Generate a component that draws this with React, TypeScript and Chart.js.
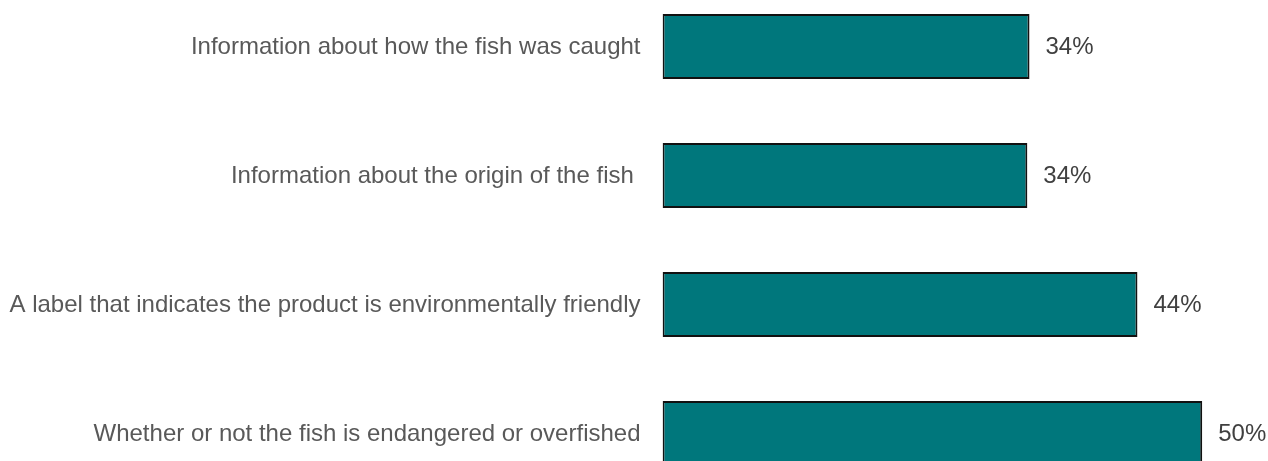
import React, { useEffect, useRef } from "react";
import { Chart, registerables } from "chart.js";

Chart.register(...registerables);

const categories = [
  "Information about how the fish was caught",
  "Information about the origin of the fish ",
  "A label that indicates the product is environmentally friendly",
  "Whether or not the fish is endangered or overfished",
];
const values = [34, 33.8, 44, 50];
const valueLabels = ["34%", "34%", "44%", "50%"];

const TEXT_COLOR = "#595959";
const VALUE_COLOR = "#404040";
const FONT = "'Liberation Sans', Arial, sans-serif";

const labelPlugin = {
  id: "labelsPlugin",
  afterDatasetsDraw(chart: any) {
    const ctx = chart.ctx;
    const meta = chart.getDatasetMeta(0);
    const left = chart.chartArea.left;
    ctx.save();
    ctx.font = `24px ${FONT}`;
    ctx.textBaseline = "middle";
    meta.data.forEach((bar: any, i: number) => {
      ctx.fillStyle = TEXT_COLOR;
      ctx.textAlign = "right";
      ctx.fillText(String(chart.data.labels[i]), left - 22, bar.y + 1);
      ctx.fillStyle = VALUE_COLOR;
      ctx.textAlign = "left";
      ctx.fillText(valueLabels[i], bar.x + 16, bar.y + 1);
    });
    ctx.restore();
  },
};

export default function App() {
  const canvasRef = useRef<HTMLCanvasElement | null>(null);

  useEffect(() => {
    if (!canvasRef.current) return;
    const chart = new Chart(canvasRef.current, {
      type: "bar",
      data: {
        labels: categories,
        datasets: [
          {
            data: values,
            backgroundColor: "#00777C",
            borderColor: "#111111",
            borderWidth: 2,
            borderSkipped: false,
            categoryPercentage: 1,
            barPercentage: 0.504,
          },
        ],
      },
      options: {
        indexAxis: "y",
        animation: false,
        responsive: false,
        maintainAspectRatio: false,
        devicePixelRatio: 1,
        layout: { padding: { left: 662.5, right: 1, top: 0, bottom: 0 } },
        plugins: {
          legend: { display: false },
          tooltip: { enabled: false },
        },
        scales: {
          x: {
            display: false,
            min: 0,
            max: 56,
          },
          y: {
            display: false,
          },
        },
      },
      plugins: [labelPlugin],
    });
    return () => chart.destroy();
  }, []);

  return (
    <div
      style={{
        position: "fixed",
        left: 0,
        top: -18,
        width: 1268,
        height: 516,
        background: "#ffffff",
      }}
    >
      <canvas ref={canvasRef} width={1268} height={516} style={{ display: "block", width: 1268, height: 516 }} />
    </div>
  );
}
